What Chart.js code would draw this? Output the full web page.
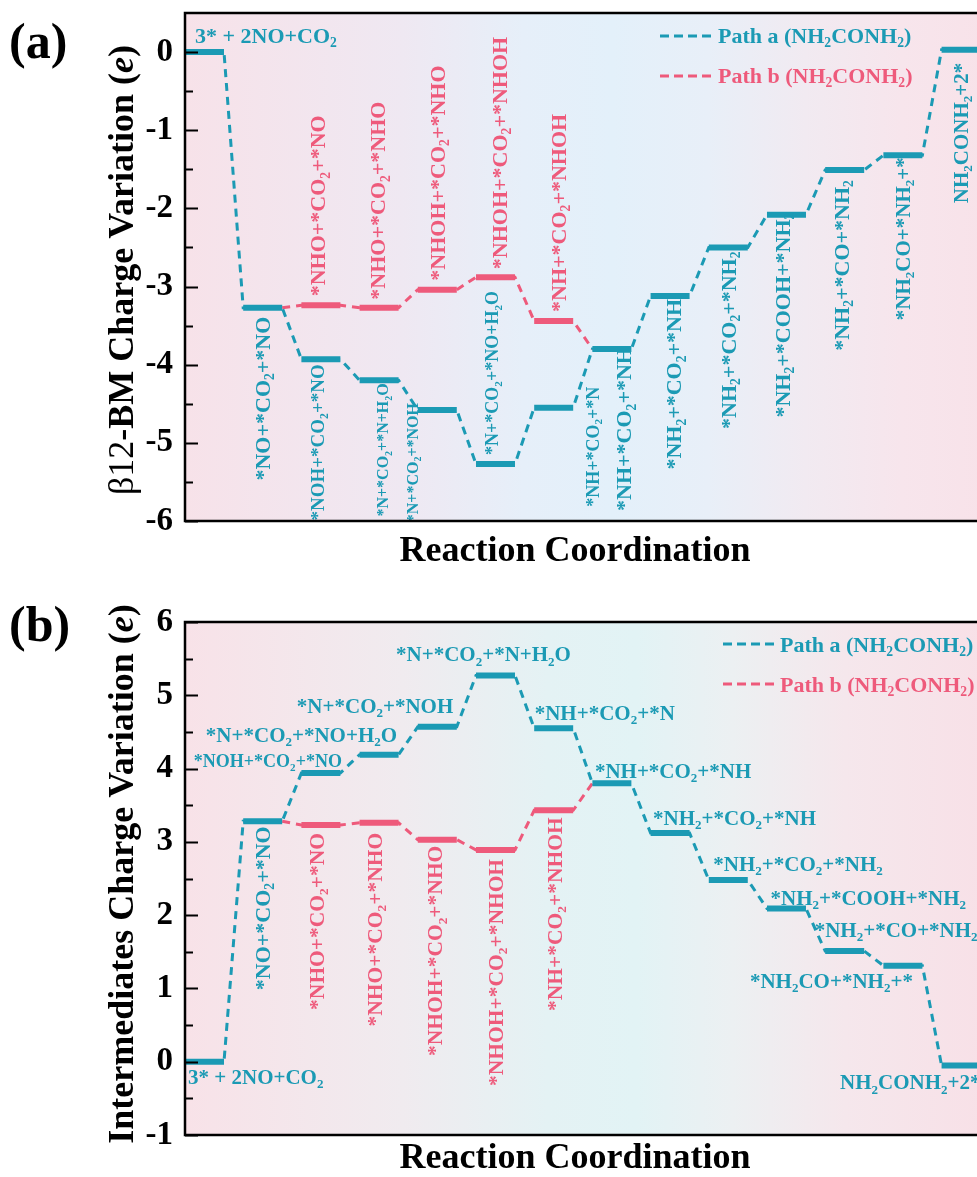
<!DOCTYPE html>
<html><head><meta charset="utf-8">
<script src="https://cdn.jsdelivr.net/npm/chart.js@4.4.0/dist/chart.umd.min.js"></script>
<style>
html,body{margin:0;padding:0;background:#fff;overflow:hidden;width:977px;height:1177px;}
#wrap{position:relative;width:977px;height:1177px;overflow:hidden;}
canvas{position:absolute;left:0;}
#ca{top:0;} #cb{top:590px;}
</style></head><body>
<div id="wrap"><canvas id="ca" width="990" height="580"></canvas><canvas id="cb" width="990" height="587"></canvas></div>
<script>
// ---------- DATA ----------
const steps = ['3* + 2NO+CO_2', '*NO+*CO_2+*NO', '*NOH+*CO_2+*NO', '*N+*CO_2+*NO+H_2O', '*N+*CO_2+*NOH',
  '*N+*CO_2+*N+H_2O', '*NH+*CO_2+*N', '*NH+*CO_2+*NH', '*NH_2+*CO_2+*NH', '*NH_2+*CO_2+*NH_2',
  '*NH_2+*COOH+*NH_2', '*NH_2+*CO+*NH_2', '*NH_2CO+*NH_2+*', 'NH_2CONH_2+2*'];
const stepsPathB = ['*NHO+*CO_2+*NO', '*NHO+*CO_2+*NHO', '*NHOH+*CO_2+*NHO', '*NHOH+*CO_2+*NHOH', '*NH+*CO_2+*NHOH'];
const pathBStepIndex = [2, 3, 4, 5, 6];
// panel (a) labels as printed in the original (two entries appear swapped there)
const betaStepText = [steps[0], steps[1], steps[2], steps[5], steps[4], steps[3], steps[6], steps[7],
  steps[8], steps[9], steps[10], steps[11], steps[12], steps[13]];
const betaPathA = [0, -3.27, -3.93, -4.20, -4.58, -5.27, -4.55, -3.80, -3.12, -2.50, -2.08, -1.51, -1.32, 0.03];
const betaPathB = [-3.24, -3.27, -3.04, -2.88, -3.44];
const interPathA = [0, 3.28, 3.94, 4.19, 4.57, 5.27, 4.55, 3.80, 3.12, 2.48, 2.09, 1.51, 1.31, -0.05];
const interPathB = [3.23, 3.26, 3.03, 2.89, 3.43];
const betaTicks = [-6, -5, -4, -3, -2, -1, 0];
const interTicks = [-1, 0, 1, 2, 3, 4, 5, 6];
const legendText = ['Path a (NH_2CONH_2)', 'Path b (NH_2CONH_2)'];

// ---------- STYLE ----------
const TEAL = '#1b9ab4', RED = '#ee5a7b', FONT = '"Liberation Serif", "Times New Roman", serif';
const HW = 0.335;
Chart.defaults.font.family = FONT;

function fontStr(s) { return (s.st ? s.st + ' ' : '') + (s.w || 'bold') + ' ' + s.s + 'px ' + FONT; }
function parseRich(text, size) {
  const segs = []; let buf = '';
  for (let i = 0; i < text.length; i++) {
    if (text[i] === '_') {
      if (buf) { segs.push({ t: buf, s: size, dy: 0 }); buf = ''; }
      segs.push({ t: text[i + 1], s: size * 0.62, dy: size * 0.2 }); i++;
    } else buf += text[i];
  }
  if (buf) segs.push({ t: buf, s: size, dy: 0 });
  return segs;
}
function drawSegs(ctx, segs, x, y, mode, color, vOff) {
  ctx.save(); ctx.fillStyle = color; ctx.textBaseline = 'alphabetic'; ctx.textAlign = 'left';
  let W = 0;
  segs.forEach(s => { ctx.font = fontStr(s); s.wd = ctx.measureText(s.t).width; W += s.wd; });
  ctx.translate(x, y);
  let x0 = 0, by = 0;
  if (mode[0] === 'v') {
    ctx.rotate(-Math.PI / 2);
    by = vOff !== undefined ? vOff : segs[0].s * 0.33;
    x0 = mode === 'vt' ? -W : mode === 'vc' ? -W / 2 : 0;
  } else {
    x0 = mode === 'hl' ? 0 : mode === 'hr' ? -W : -W / 2;
  }
  segs.forEach(s => { ctx.font = fontStr(s); ctx.fillText(s.t, x0, by + (s.dy || 0)); x0 += s.wd; });
  ctx.restore();
}
function drawRich(ctx, text, x, y, mode, size, color) { drawSegs(ctx, parseRich(text, size), x, y, mode, color); }

function levelPoints(idx, vals) {
  const p = [];
  idx.forEach((s, k) => { p.push({ x: s - HW, y: vals[k] }, { x: s + HW, y: vals[k] }, { x: s + 0.5, y: null }); });
  return p;
}
function pathPoints(idx, vals) {
  const p = [];
  idx.forEach((s, k) => { p.push({ x: s - HW, y: vals[k] }, { x: s + HW, y: vals[k] }); });
  return p;
}

function makeChart(canvas, cfg) {
  const idxA = steps.map((_, i) => i);
  const bConn = [{ x: 1 + HW, y: cfg.valsA[1] }].concat(pathPoints(pathBStepIndex, cfg.valsB), [{ x: 7 - HW, y: cfg.valsA[7] }]);
  const plugin = {
    id: 'energy',
    beforeDraw(chart) {
      const { ctx, chartArea: a } = chart;
      const g = ctx.createLinearGradient(a.left, 0, a.right, 0);
      cfg.bg.forEach(([p, c]) => g.addColorStop(p, c));
      ctx.save(); ctx.fillStyle = g; ctx.fillRect(a.left, a.top, a.right - a.left, a.bottom - a.top); ctx.restore();
    },
    afterDatasetsDraw(chart) {
      const { ctx } = chart; const xs = chart.scales.x, ys = chart.scales.y;
      cfg.labels.forEach(L => {
        const isB = L.p === 'b';
        const step = isB ? pathBStepIndex[L.k] : L.k;
        const v = isB ? cfg.valsB[L.k] : cfg.valsA[L.k];
        const text = isB ? stepsPathB[L.k] : cfg.text[L.k];
        drawRich(ctx, text, xs.getPixelForValue(step) + L.dx, ys.getPixelForValue(v) + L.dy, L.m, L.s, isB ? RED : TEAL);
      });
    },
    afterDraw(chart) {
      const { ctx, chartArea: a } = chart; const ys = chart.scales.y;
      drawSegs(ctx, [{ t: cfg.letter.t, s: 50 }], cfg.letter.x, cfg.letter.y, 'hl', '#000');
      drawSegs(ctx, [{ t: 'Reaction Coordination', s: 36 }], cfg.xTitle.x, cfg.xTitle.y, 'hc', '#000');
      drawSegs(ctx, cfg.yTitle.segs, cfg.yTitle.x, cfg.yTitle.y, 'vc', '#000', 0);
      ctx.save();
      ctx.strokeStyle = '#000'; ctx.lineWidth = 2.5; ctx.setLineDash([]);
      ctx.beginPath();
      ctx.moveTo(a.right + 5, a.top); ctx.lineTo(a.left, a.top); ctx.lineTo(a.left, a.bottom); ctx.lineTo(a.right + 5, a.bottom);
      ctx.stroke();
      const lo = Math.min(...cfg.ticks), hi = Math.max(...cfg.ticks);
      ctx.lineWidth = 2.2; ctx.beginPath();
      for (let t = lo; t <= hi + 0.001; t += 0.5) {
        const y = Math.round(ys.getPixelForValue(t)) + 0.5;
        const len = Math.abs(t - Math.round(t)) < 0.01 ? 13 : 8;
        ctx.moveTo(a.left, y); ctx.lineTo(a.left + len, y);
      }
      ctx.stroke();
      cfg.legend.forEach((lg, i) => {
        ctx.strokeStyle = i === 0 ? TEAL : RED; ctx.lineWidth = 3; ctx.setLineDash([9, 5]);
        ctx.beginPath(); ctx.moveTo(lg.x0, lg.ly); ctx.lineTo(lg.x1, lg.ly); ctx.stroke();
        ctx.setLineDash([]);
        drawRich(ctx, legendText[i], lg.tx, lg.ty, 'hl', 22, i === 0 ? TEAL : RED);
      });
      ctx.restore();
    }
  };
  return new Chart(canvas, {
    type: 'scatter',
    data: {
      datasets: [
        { data: levelPoints(idxA, cfg.valsA), showLine: true, borderColor: TEAL, borderWidth: 6, pointRadius: 0, spanGaps: false, order: 0 },
        { data: levelPoints(pathBStepIndex, cfg.valsB), showLine: true, borderColor: RED, borderWidth: 6, pointRadius: 0, spanGaps: false, order: 0 },
        { data: pathPoints(idxA, cfg.valsA), showLine: true, borderColor: TEAL, borderWidth: 3, borderDash: [8, 6], pointRadius: 0, order: 1 },
        { data: bConn, showLine: true, borderColor: RED, borderWidth: 3, borderDash: [8, 6], pointRadius: 0, order: 1 }
      ]
    },
    options: {
      responsive: false, animation: false, devicePixelRatio: 1,
      layout: { padding: cfg.pad },
      plugins: { legend: { display: false }, tooltip: { enabled: false } },
      scales: {
        x: { type: 'linear', display: false, min: -HW, max: 13.497 },
        y: {
          min: cfg.yMin, max: cfg.yMax,
          afterFit(s) { s.width = 185; s.paddingTop = 0; s.paddingBottom = 0; },
          afterBuildTicks(s) { s.ticks = cfg.ticks.map(v => ({ value: v })); },
          grid: { display: false, drawTicks: false }, border: { display: false },
          ticks: { color: '#000', padding: 12, autoSkip: false, font: { family: FONT, size: 33, weight: 'bold' }, callback: v => String(v) }
        }
      }
    },
    plugins: [plugin]
  });
}

makeChart(document.getElementById('ca'), {
  valsA: betaPathA, valsB: betaPathB, text: betaStepText, ticks: betaTicks, yMin: -6, yMax: 0.5,
  pad: { top: 13, bottom: 59, left: 0, right: 0 },
  bg: [[0, '#f7e2e9'], [0.27, '#efe8f2'], [0.42, '#e6eff9'], [0.53, '#e3f0fa'], [0.65, '#e8eff8'], [0.77, '#f1eaf1'], [0.89, '#f7e5ec'], [1, '#f8e2e9']],
  letter: { t: '(a)', x: 9, y: 58 },
  xTitle: { x: 575, y: 561 },
  yTitle: { x: 133, y: 270, segs: [{ t: 'β12', s: 36, w: 'normal' }, { t: '-BM Charge Variation (', s: 36 }, { t: 'e', s: 36, st: 'italic' }, { t: ')', s: 36 }] },
  legend: [{ x0: 660, x1: 713, ly: 36, tx: 718, ty: 43 }, { x0: 660, x1: 713, ly: 76, tx: 718, ty: 83 }],
  labels: [
    { p: 'a', k: 0, m: 'hl', dx: -9.5, dy: -9, s: 22 },
    { p: 'a', k: 1, m: 'vt', dx: 0, dy: 9, s: 22 },
    { p: 'a', k: 2, m: 'vt', dx: -3, dy: 5, s: 19 },
    { p: 'a', k: 3, m: 'vt', dx: 4, dy: 3, s: 16 },
    { p: 'a', k: 4, m: 'vt', dx: -25, dy: -7, s: 16 },
    { p: 'a', k: 5, m: 'vb', dx: -3, dy: -9, s: 18 },
    { p: 'a', k: 6, m: 'vt', dx: 39, dy: -21, s: 18 },
    { p: 'a', k: 7, m: 'vt', dx: 12, dy: -2, s: 22 },
    { p: 'a', k: 8, m: 'vt', dx: 4, dy: 3, s: 22 },
    { p: 'a', k: 9, m: 'vt', dx: 0, dy: 4, s: 22 },
    { p: 'a', k: 10, m: 'vt', dx: -4, dy: -2, s: 22 },
    { p: 'a', k: 11, m: 'vt', dx: -3, dy: 10, s: 22 },
    { p: 'a', k: 12, m: 'vt', dx: 0, dy: 2, s: 21 },
    { p: 'a', k: 13, m: 'vt', dx: 0, dy: 13, s: 21 },
    { p: 'b', k: 0, m: 'vb', dx: -3, dy: -9, s: 22 },
    { p: 'b', k: 1, m: 'vb', dx: -1, dy: -8, s: 22 },
    { p: 'b', k: 2, m: 'vb', dx: 0, dy: -9, s: 22 },
    { p: 'b', k: 3, m: 'vb', dx: 4, dy: -8, s: 22 },
    { p: 'b', k: 4, m: 'vb', dx: 5, dy: -9, s: 22 }
  ]
});

makeChart(document.getElementById('cb'), {
  valsA: interPathA, valsB: interPathB, text: steps, ticks: interTicks, yMin: -1, yMax: 6,
  pad: { top: 32, bottom: 42, left: 0, right: 0 },
  bg: [[0, '#f8e2e8'], [0.27, '#f0ebef'], [0.45, '#e4f2f4'], [0.56, '#e2f3f5'], [0.68, '#ecf0f2'], [0.82, '#f5e7ec'], [1, '#f8e0e7']],
  letter: { t: '(b)', x: 9, y: 51 },
  xTitle: { x: 575, y: 578 },
  yTitle: { x: 133, y: 284, segs: [{ t: 'Intermediates Charge Variation (', s: 36 }, { t: 'e', s: 36, st: 'italic' }, { t: ')', s: 36 }] },
  legend: [{ x0: 723, x1: 775, ly: 54, tx: 780, ty: 62 }, { x0: 723, x1: 775, ly: 94, tx: 780, ty: 102 }],
  labels: [
    { p: 'a', k: 0, m: 'hl', dx: -16.5, dy: 22, s: 21 },
    { p: 'a', k: 1, m: 'vt', dx: 0, dy: 5, s: 22 },
    { p: 'a', k: 2, m: 'hr', dx: 21, dy: -6, s: 18 },
    { p: 'a', k: 3, m: 'hr', dx: 18, dy: -13, s: 21 },
    { p: 'a', k: 4, m: 'hr', dx: 16, dy: -14, s: 21 },
    { p: 'a', k: 5, m: 'hc', dx: -12, dy: -14, s: 21 },
    { p: 'a', k: 6, m: 'hl', dx: -19, dy: -8, s: 21 },
    { p: 'a', k: 7, m: 'hl', dx: -17, dy: -5, s: 21 },
    { p: 'a', k: 8, m: 'hl', dx: -17, dy: -8, s: 21 },
    { p: 'a', k: 9, m: 'hl', dx: -15, dy: -9, s: 21 },
    { p: 'a', k: 10, m: 'hl', dx: -16, dy: -4, s: 21 },
    { p: 'a', k: 11, m: 'hl', dx: -30, dy: -14, s: 21 },
    { p: 'a', k: 12, m: 'hr', dx: 10, dy: 22, s: 21 },
    { p: 'a', k: 13, m: 'hl', dx: -121, dy: 24, s: 21 },
    { p: 'b', k: 0, m: 'vt', dx: -4, dy: 8, s: 21.5 },
    { p: 'b', k: 1, m: 'vt', dx: -4, dy: 10, s: 21.5 },
    { p: 'b', k: 2, m: 'vt', dx: -2, dy: 6, s: 21.5 },
    { p: 'b', k: 3, m: 'vt', dx: 0, dy: 9, s: 21.5 },
    { p: 'b', k: 4, m: 'vt', dx: 1, dy: 7, s: 21.5 }
  ]
});
</script>
</body></html>
